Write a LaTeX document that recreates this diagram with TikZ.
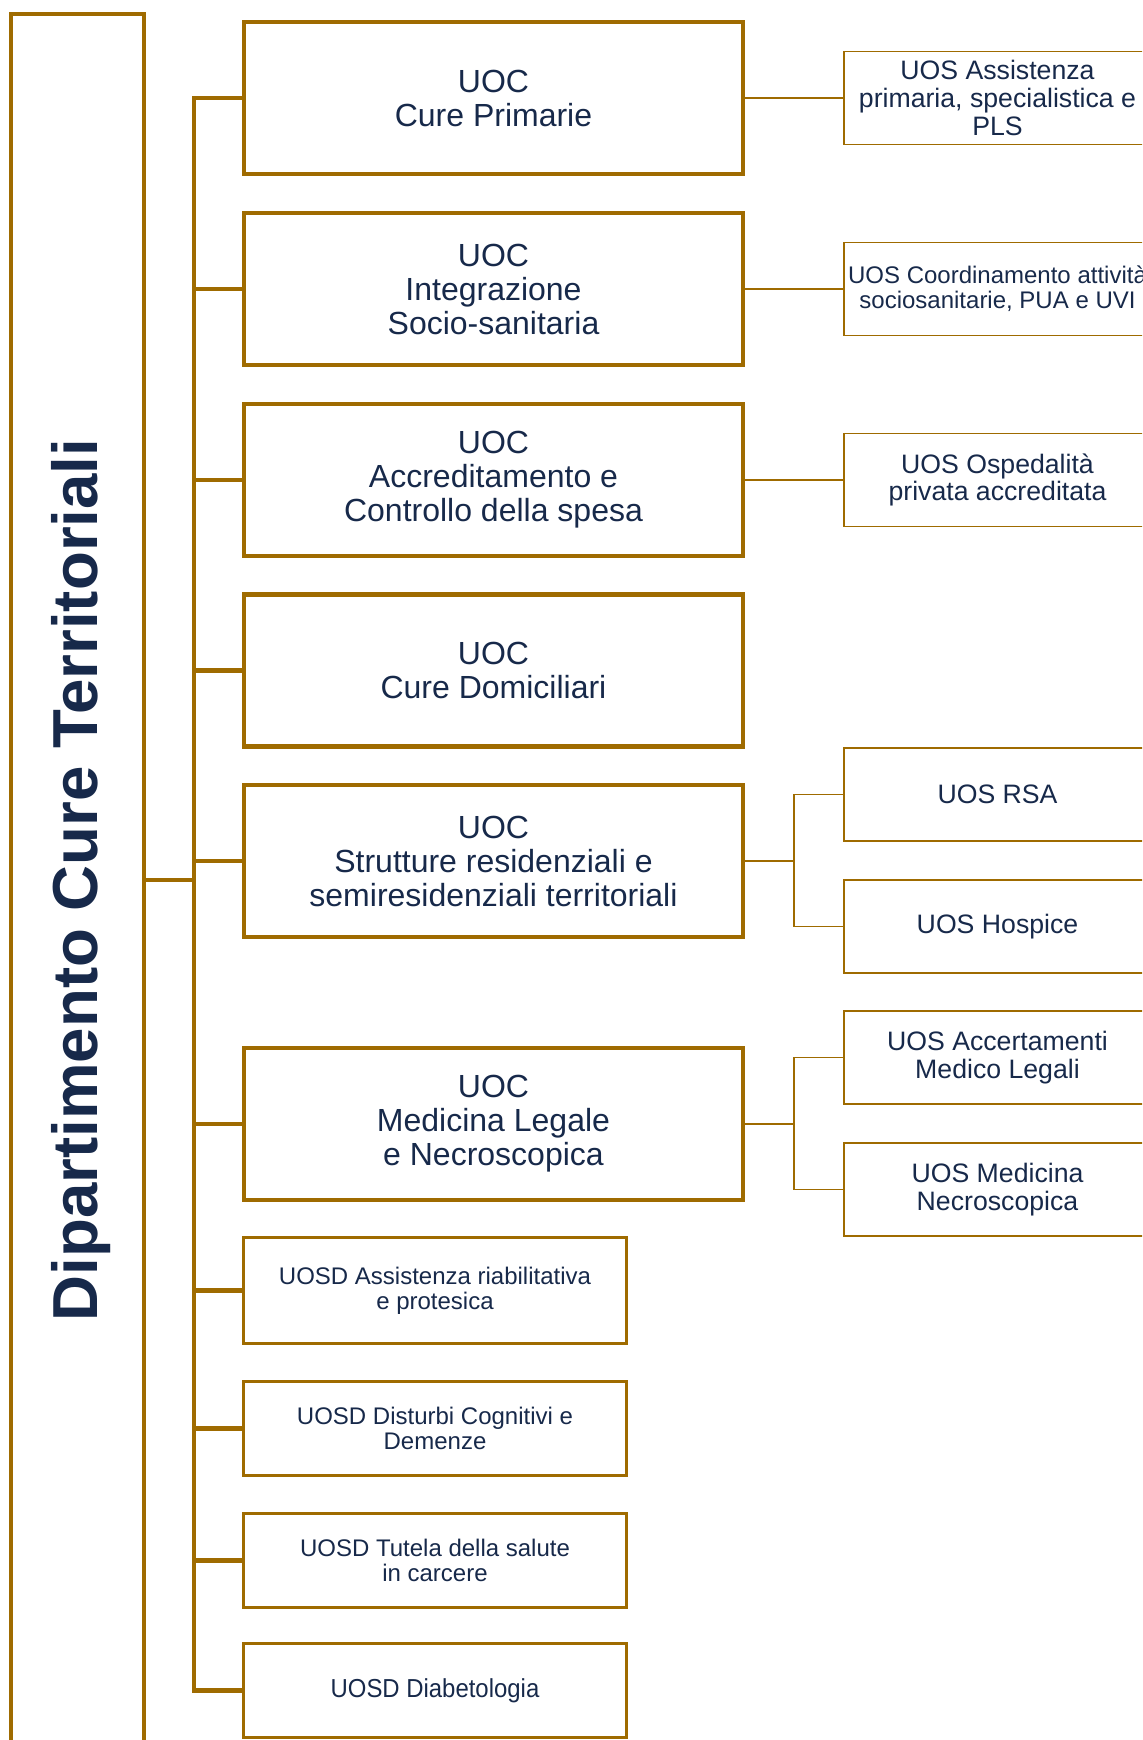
\documentclass[tikz,border=0pt]{standalone}
\usepackage{fontspec}
\usepackage{graphicx}
\setmainfont{Liberation Sans}
\definecolor{gold}{HTML}{9F6B00}
\definecolor{navy}{HTML}{17294A}
\tikzset{
  trunk/.style={draw=gold, line width=3.2pt},
  twig/.style={draw=gold, line width=1.1pt},
  uoc/.style={draw=gold, line width=3.2pt, minimum width=374pt, minimum height=114pt,
    inner sep=0pt, align=center, text=navy, font=\fontsize{24}{25.5}\selectfont},
  uosd/.style={draw=gold, line width=2.3pt, minimum width=287pt, minimum height=70pt,
    inner sep=0pt, align=center, text=navy, font=\fontsize{18}{19}\selectfont},
  uos/.style={draw=gold, line width=1.1pt, minimum width=230pt, minimum height=70pt,
    inner sep=0pt, align=center, text=navy, font=\fontsize{20}{20.8}\selectfont}
}
\begin{document}
\begin{tikzpicture}[x=0.75pt, y=-0.75pt]
  \useasboundingbox (0,0) rectangle (1142,1740);
  \clip (0,0) rectangle (1142,1740);

  % department
  \node[draw=gold, line width=3.2pt, minimum width=99.75pt, minimum height=1299pt, inner sep=0pt] (dip) at (77.5,880) {};
  \node[rotate=90, text=navy, font=\bfseries\fontsize{47.7}{50}\selectfont] (title) at (81,880) {Dipartimento Cure Territoriali};

  % UOC
  \node[uoc] (cp) at (493.5,98)    {UOC\\Cure Primarie};
  \node[uoc] (is) at (493.5,289)   {UOC\\Integrazione\\Socio-sanitaria};
  \node[uoc] (ac) at (493.5,480)   {UOC\\Accreditamento e\\Controllo della spesa};
  \node[uoc] (cd) at (493.5,670.5) {UOC\\Cure Domiciliari};
  \node[uoc] (sr) at (493.5,861)   {UOC\\Strutture residenziali e\\semiresidenziali territoriali};
  \node[uoc] (ml) at (493.5,1124)  {UOC\\Medicina Legale\\e Necroscopica};

  % UOSD
  \node[uosd, minimum height=79pt] (ar) at (435,1290.5) {UOSD Assistenza riabilitativa\\e protesica};
  \node[uosd] (dc) at (435,1428.5) {UOSD Disturbi Cognitivi e\\Demenze};
  \node[uosd] (tc) at (435,1560.5) {UOSD Tutela della salute\\in carcere};
  \node[uosd, font=\fontsize{19.5}{20}\selectfont] (db) at (435,1690.5) {\scalebox{0.92}[1]{UOSD Diabetologia}};

  % UOS
  \node[uos] (ap)  at (997.5,98)     {UOS Assistenza\\primaria, specialistica e\\PLS};
  \node[uos, font=\fontsize{18}{19}\selectfont] (co) at (997.5,289) {UOS Coordinamento attività\\sociosanitarie, PUA e UVI};
  \node[uos] (op)  at (997.5,480)    {UOS Ospedalità\\privata accreditata};
  \node[uos] (rsa) at (997.5,794.5)  {UOS RSA};
  \node[uos] (hos) at (997.5,926.5)  {UOS Hospice};
  \node[uos] (acc) at (997.5,1057.5) {UOS Accertamenti\\Medico Legali};
  \node[uos] (nec) at (997.5,1189.5) {UOS Medicina\\Necroscopica};

  % main tree
  \coordinate (spine) at (194,880);
  \draw[trunk] (dip.east) -- (spine);
  \foreach \n in {cp,is,ac,cd,sr,ml,ar,dc,tc,db}
    \draw[trunk] (spine) |- (\n.west);

  % sub units
  \draw[twig] (cp.east) -- (ap.west);
  \draw[twig] (is.east) -- (co.west);
  \draw[twig] (ac.east) -- (op.west);
  \coordinate (srfork) at (794,861);
  \draw[twig] (sr.east) -- (srfork);
  \draw[twig] (srfork) |- (rsa.west);
  \draw[twig] (srfork) |- (hos.west);
  \coordinate (mlfork) at (794,1124);
  \draw[twig] (ml.east) -- (mlfork);
  \draw[twig] (mlfork) |- (acc.west);
  \draw[twig] (mlfork) |- (nec.west);
\end{tikzpicture}
\end{document}
